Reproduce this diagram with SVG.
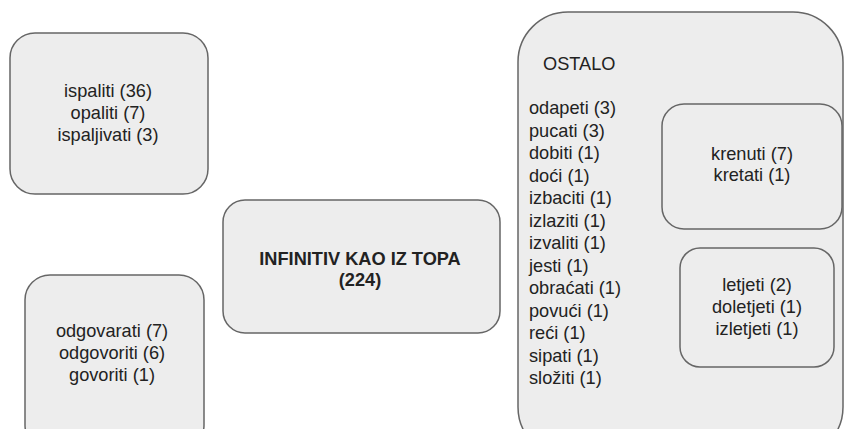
<svg xmlns="http://www.w3.org/2000/svg" width="845" height="429" viewBox="0 0 845 429">
<style>
.box{fill:#ededed;stroke:#666;stroke-width:1.5}
text{font-family:"Liberation Sans",Arial,sans-serif;font-size:18.2px;fill:#222}
.c{text-anchor:middle}
.b{font-weight:bold}
</style>
<rect width="845" height="429" fill="#fff"/>
<g id="connectors"/>
<g id="node-ispaliti">
<rect class="box" x="10" y="33" width="198" height="161" rx="25"/>
<text class="c" x="108" y="97">ispaliti (36)</text>
<text class="c" x="108" y="119">opaliti (7)</text>
<text class="c" x="108" y="141">ispaljivati (3)</text>
</g>
<g id="node-odgovarati">
<rect class="box" x="25" y="275" width="179" height="175" rx="25"/>
<text class="c" x="112" y="337">odgovarati (7)</text>
<text class="c" x="112" y="359">odgovoriti (6)</text>
<text class="c" x="112" y="381">govoriti (1)</text>
</g>
<g id="node-center">
<rect class="box" x="223" y="200" width="277" height="133" rx="22"/>
<text class="c b" x="360" y="265">INFINITIV KAO IZ TOPA</text>
<text class="c b" x="360" y="286">(224)</text>
</g>
<g id="node-ostalo">
<rect class="box" x="518" y="12" width="325" height="445" rx="50"/>
<text x="543" y="70">OSTALO</text>
<text x="529" y="114">odapeti (3)</text>
<text x="529" y="136.5">pucati (3)</text>
<text x="529" y="159">dobiti (1)</text>
<text x="529" y="181.5">doći (1)</text>
<text x="529" y="204">izbaciti (1)</text>
<text x="529" y="226.5">izlaziti (1)</text>
<text x="529" y="249">izvaliti (1)</text>
<text x="529" y="271.5">jesti (1)</text>
<text x="529" y="294">obraćati (1)</text>
<text x="529" y="316.5">povući (1)</text>
<text x="529" y="339">reći (1)</text>
<text x="529" y="361.5">sipati (1)</text>
<text x="529" y="384">složiti (1)</text>
</g>
<g id="node-krenuti">
<rect class="box" x="662" y="104" width="180" height="125" rx="22"/>
<text class="c" x="752" y="160">krenuti (7)</text>
<text class="c" x="752" y="181">kretati (1)</text>
</g>
<g id="node-letjeti">
<rect class="box" x="680" y="248" width="154" height="119" rx="20"/>
<text class="c" x="757" y="291">letjeti (2)</text>
<text class="c" x="757" y="313">doletjeti (1)</text>
<text class="c" x="757" y="335">izletjeti (1)</text>
</g>
</svg>
